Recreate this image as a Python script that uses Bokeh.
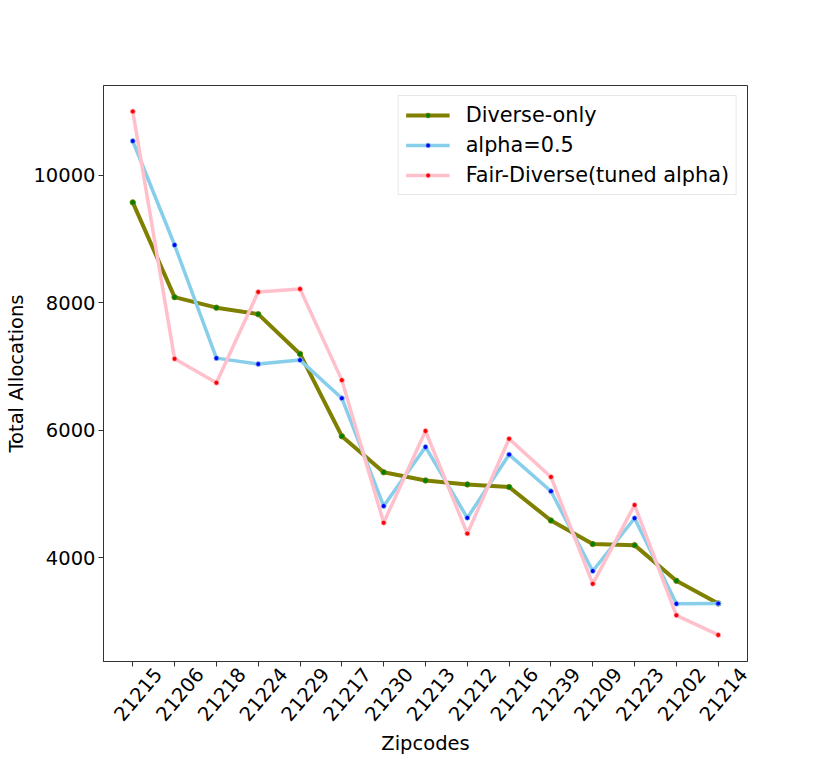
import math
from bokeh.plotting import figure
from bokeh.models import Range1d, FixedTicker, Legend, LegendItem, ColumnDataSource, LinearAxis
from bokeh.embed import file_html
from bokeh.resources import INLINE

zipcodes = ["21215", "21206", "21218", "21224", "21229", "21217", "21230", "21213",
            "21212", "21216", "21239", "21209", "21223", "21202", "21214"]
diverse_only = [9577, 8090, 7925, 7823, 7199, 5908, 5342, 5214, 5152, 5110, 4585, 4215, 4199, 3639, 3284]
alpha_half = [10540, 8908, 7133, 7040, 7102, 6504, 4812, 5739, 4627, 5620, 5044, 3793, 4621, 3278, 3284]
fair_diverse = [11004, 7122, 6747, 8172, 8218, 6788, 4550, 5990, 4380, 5867, 5269, 3592, 4828, 3098, 2790]
y_ticks = [4000, 6000, 8000, 10000]

xs = list(range(len(zipcodes)))
FONT = "DejaVu Sans"
FS = "19.5px"
LABEL_SHIFT = 0.6  # rotated labels centred on their ticks, as in the reference

x0, x1 = -0.7, len(zipcodes) - 1 + 0.7
p = figure(width=814, height=759, output_backend="svg", toolbar_location=None,
           x_range=Range1d(x0, x1), y_range=Range1d(2373, 11411),
           x_axis_location=None)
p.min_border_left = 103
p.min_border_right = 67
p.min_border_top = 85
p.min_border_bottom = 98
p.background_fill_color = "white"
p.border_fill_color = "white"
p.outline_line_color = "#333333"
p.outline_line_width = 1
p.grid.visible = False

def style_axis(ax):
    ax.major_label_text_font = FONT
    ax.major_label_text_font_size = FS
    ax.major_label_text_color = "black"
    ax.axis_label_text_font = FONT
    ax.axis_label_text_font_size = FS
    ax.axis_label_text_font_style = "normal"
    ax.axis_label_text_color = "black"
    ax.major_tick_out = 5
    ax.major_tick_in = 0
    ax.minor_tick_out = 0
    ax.minor_tick_in = 0
    ax.axis_line_color = "#333333"
    ax.major_tick_line_color = "#333333"
    ax.minor_tick_line_color = "#333333"
    ax.major_label_standoff = 3
    ax.axis_label_standoff = 2

# x axis: labels sit on a shifted range so that each rotated label is centred on
# its tick; the tick marks themselves are minor ticks placed back on the data positions
p.extra_x_ranges = {"lab": Range1d(x0 - LABEL_SHIFT, x1 - LABEL_SHIFT)}
xb = LinearAxis(x_range_name="lab",
                ticker=FixedTicker(ticks=xs, minor_ticks=[i - LABEL_SHIFT for i in xs]))
style_axis(xb)
xb.major_label_overrides = {i: z for i, z in zip(xs, zipcodes)}
xb.major_label_orientation = math.radians(50)
xb.major_tick_out = 0
xb.major_tick_line_color = None
xb.minor_tick_out = 5
xb.major_label_standoff = 4
xb.axis_label_standoff = 2
xb.axis_label = "Zipcodes"
p.add_layout(xb, "below")

ya = p.yaxis[0]
style_axis(ya)
ya.ticker = FixedTicker(ticks=y_ticks)
ya.axis_label = "Total Allocations"

series = [
    ("Diverse-only", diverse_only, "#808000", 4, "#008000", 5.5),
    ("alpha=0.5", alpha_half, "#87CEEB", 3.5, "#0000FF", 5),
    ("Fair-Diverse(tuned alpha)", fair_diverse, "#FFC0CB", 3.5, "#FF0000", 5),
]
items = []
for name, vals, lc, lw, mc, ms in series:
    src = ColumnDataSource(dict(x=xs, y=vals))
    r1 = p.line("x", "y", source=src, line_color=lc, line_width=lw)
    r2 = p.scatter("x", "y", source=src, size=ms, fill_color=mc, line_color=lc, line_width=0.8)
    items.append(LegendItem(label=name, renderers=[r1, r2]))

legend = Legend(items=items, location="top_right")
legend.label_text_font = FONT
legend.label_text_font_size = "20.8px"
legend.label_text_color = "black"
legend.glyph_width = 44
legend.glyph_height = 12
legend.label_height = 24
legend.label_standoff = 16
legend.spacing = 6
legend.padding = 7
legend.margin = 10
legend.border_line_color = "#d0d0d0"
legend.border_line_width = 1
legend.background_fill_alpha = 0.8
p.add_layout(legend)

open("out.html", "w").write(file_html(p, INLINE))
